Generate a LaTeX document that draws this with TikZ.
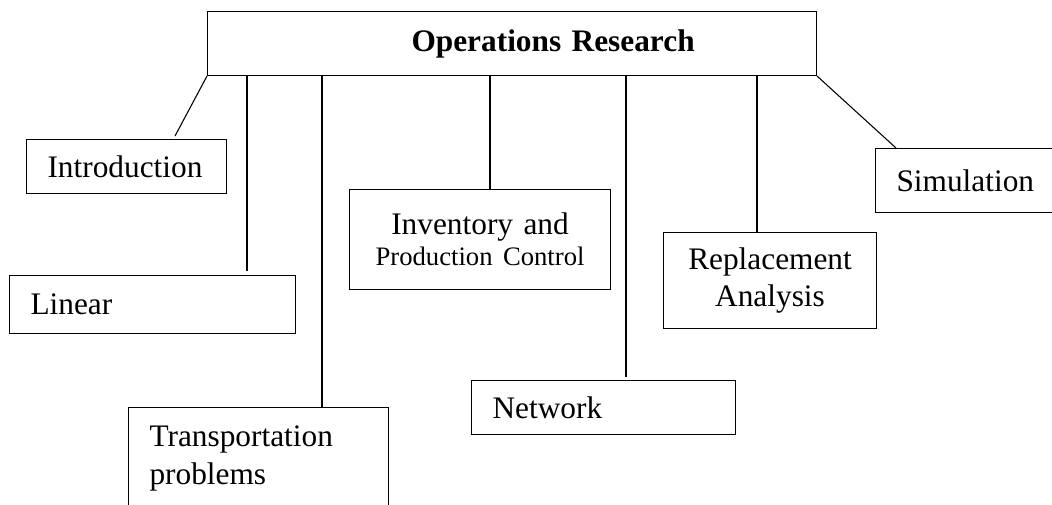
\documentclass[tikz,border=0pt]{standalone}
\usepackage{fontspec}
\setmainfont{Liberation Serif}
\tikzset{
  box/.style={draw, line width=0.8pt, rectangle, anchor=north west, inner ysep=0pt,
    font=\fontsize{23.5}{28.2}\selectfont},
  lbox/.style={box, align=left, inner xsep=15.75pt},
  cbox/.style={box, align=center, inner xsep=4pt},
  link/.style={line width=0.8pt}
}
\begin{document}
\begin{tikzpicture}[x=0.75pt, y=-0.75pt]
\clip (0,0) rectangle (1052,504);
% root
\node[box, align=left, inner xsep=0pt, text width=456.75pt, minimum height=48pt] (top) at (207,11)
  {\hspace*{153pt}\textbf{Operations Research}};
% children
\node[lbox, text width=118.5pt, minimum height=40.5pt] (intro) at (26,139) {Introduction};
\node[lbox, text width=183pt, minimum height=43.5pt] (linear) at (9,275) {Linear};
\node[lbox, text width=163.5pt, minimum height=76.5pt] (trans) at (128,407) {Transportation\\problems};
\node[cbox, text width=187.75pt, minimum height=75pt] (inv) at (349,189)
  {Inventory and\\[-5pt]{\fontsize{20}{24}\selectfont Production Control}};
\node[lbox, text width=166.5pt, minimum height=40.5pt] (net) at (471,380) {Network};
\node[cbox, text width=151.75pt, minimum height=72pt] (repl) at (663,232) {Replacement\\[-1pt]Analysis};
\node[lbox, text width=118.5pt, minimum height=48pt] (sim) at (875,148) {Simulation};
% connector positions
\coordinate (introtip) at (175,136);
\coordinate (xL) at (247,0);
\coordinate (xT) at (322,0);
\coordinate (xI) at (490,0);
\coordinate (xN) at (626,0);
\coordinate (xR) at (757,0);
\coordinate (xS) at (896,0);
% connectors
\draw[link] (top.south west) -- (introtip);
\draw[link, shorten >=3pt] (top.south -| xL) -- (linear.north -| xL);
\draw[link] (top.south -| xT) -- (trans.north -| xT);
\draw[link] (top.south -| xI) -- (inv.north -| xI);
\draw[link, shorten >=2.25pt] (top.south -| xN) -- (net.north -| xN);
\draw[link] (top.south -| xR) -- (repl.north -| xR);
\draw[link] (top.south east) -- (sim.north -| xS);
\end{tikzpicture}
\end{document}
